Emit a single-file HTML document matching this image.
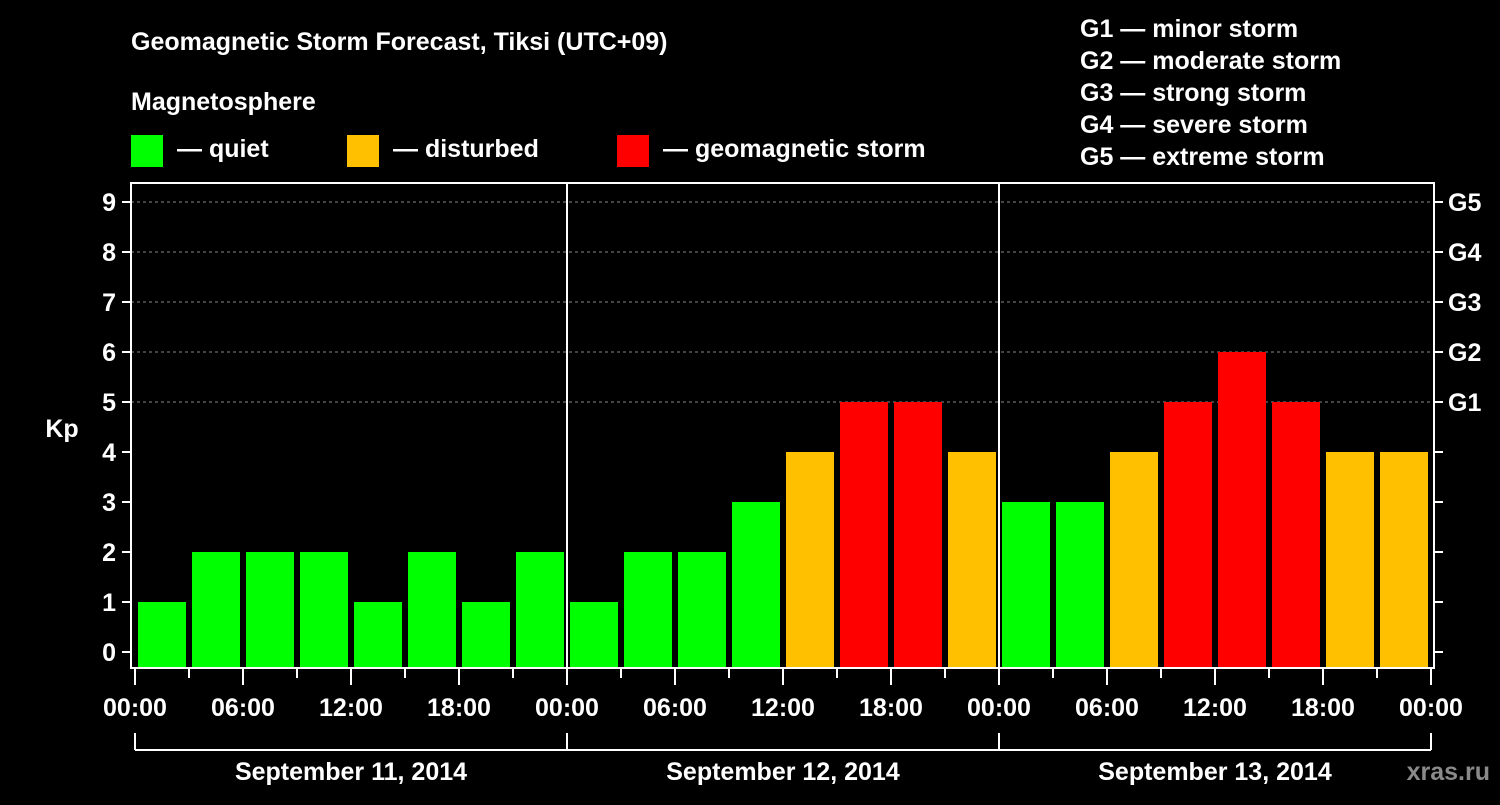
<!DOCTYPE html>
<html><head><meta charset="utf-8"><style>
body{margin:0;background:#000;width:1500px;height:800px;overflow:hidden}
svg text{font-family:"Liberation Sans",Arial,sans-serif;font-weight:bold;fill:#fff}
</style></head><body>
<svg id="c" width="1500" height="800" xmlns="http://www.w3.org/2000/svg">
<text x="131" y="50" font-size="25">Geomagnetic Storm Forecast, Tiksi (UTC+09)</text>
<text x="131" y="110" font-size="25">Magnetosphere</text>
<g><rect x="131" y="135" width="32" height="32" fill="#00ff00"/><text x="177" y="157" font-size="25">— quiet</text></g>
<g><rect x="347" y="135" width="32" height="32" fill="#ffc000"/><text x="393" y="157" font-size="25">— disturbed</text></g>
<g><rect x="617" y="135" width="32" height="32" fill="#ff0000"/><text x="663" y="157" font-size="25">— geomagnetic storm</text></g>
<g font-size="25">
<text x="1080" y="37">G1 — minor storm</text>
<text x="1080" y="69">G2 — moderate storm</text>
<text x="1080" y="101">G3 — strong storm</text>
<text x="1080" y="133">G4 — severe storm</text>
<text x="1080" y="165">G5 — extreme storm</text>
</g>
<text x="62" y="437" font-size="25" text-anchor="middle">Kp</text>
<text x="1490" y="780" font-size="25" text-anchor="end" fill="#888" style="fill:#8a8a8a">xras.ru</text>
<g id="plot"></g>
</svg>
<script>
const days = ["September 11, 2014","September 12, 2014","September 13, 2014"];
const kpValues = [1,2,2,2,1,2,1,2, 1,2,2,3,4,5,5,4, 3,3,4,5,6,5,4,4];
const yTicks = [0,1,2,3,4,5,6,7,8,9];
const gLabels = ["G1","G2","G3","G4","G5"];
const xTickLabels = ["00:00","06:00","12:00","18:00"];

const NS="http://www.w3.org/2000/svg";
const plot=document.getElementById('plot');
const L=131,R=1434,T=183,B=668,X0=135,DAY=432;
const y=v=>652-v*50;
const x=h=>X0+h*DAY/24;
function mk(tag,a){const e=document.createElementNS(NS,tag);for(const k in a)e.setAttribute(k,a[k]);plot.appendChild(e);return e;}
// gridlines
for(let v=5;v<=9;v++){const g=mk('line',{x1:L,x2:R,y1:y(v),y2:y(v),stroke:'#888','stroke-dasharray':'3,3','stroke-width':1});

}
// bars
kpValues.forEach((v,i)=>{const c=v>=5?'#ff0000':v>=4?'#ffc000':'#00ff00';
const r=mk('rect',{x:x(i*3)+3,y:y(v),width:48,height:B-y(v),fill:c});

});
// day separators
for(let d=1;d<days.length;d++){const l=mk('line',{x1:x(d*24),x2:x(d*24),y1:T,y2:B,stroke:'#fff','stroke-width':2});

}
// frame
const f=mk('rect',{x:L,y:T,width:R-L,height:B-T,fill:'none',stroke:'#fff','stroke-width':2});


// y ticks
yTicks.forEach(v=>{mk('line',{x1:122,x2:L,y1:y(v),y2:y(v),stroke:'#fff','stroke-width':2});
mk('line',{x1:R,x2:R+9,y1:y(v),y2:y(v),stroke:'#fff','stroke-width':2});
const t=mk('text',{x:116,y:y(v)+9,'font-size':25,'text-anchor':'end'});t.textContent=v;

});
gLabels.forEach((g,i)=>{const t=mk('text',{x:1448,y:y(5+i)+9,'font-size':25});t.textContent=g;

});
// x ticks
const nH=days.length*24;
for(let h=0;h<=nH;h+=3){const major=h%6===0;
mk('line',{x1:x(h),x2:x(h),y1:B,y2:major?685:678,stroke:'#fff','stroke-width':2});
if(major){const t=mk('text',{x:x(h),y:716,'font-size':25,'text-anchor':'middle'});t.textContent=xTickLabels[(h%24)/6];

}}
// day brackets
mk('line',{x1:X0,x2:x(nH),y1:750,y2:750,stroke:'#fff','stroke-width':2});
for(let d=0;d<=days.length;d++)mk('line',{x1:x(d*24),x2:x(d*24),y1:733,y2:750,stroke:'#fff','stroke-width':2});
days.forEach((s,d)=>{const t=mk('text',{x:x(d*24+12),y:780,'font-size':25,'text-anchor':'middle'});t.textContent=s;

});
</script>
</body></html>
